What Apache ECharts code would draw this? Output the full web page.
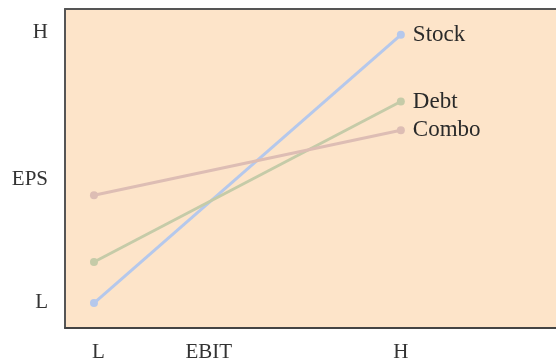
<!DOCTYPE html>
<html>
<head>
<meta charset="utf-8">
<script src="https://cdn.jsdelivr.net/npm/echarts@6/dist/echarts.min.js"></script>
<style>html,body{margin:0;padding:0;background:#fff}#c{width:556px;height:363px}</style>
</head>
<body>
<div id="c"></div>
<script>
// Data (x: EBIT level, y: EPS level, on 0-100 abstract scales)
var xPoints = [5.9, 68.4];           // L, H EBIT positions
var seriesNames = ['Stock', 'Debt', 'Combo'];
var stockEPS = [7.8, 91.9];
var debtEPS = [20.7, 71.0];
var comboEPS = [41.6, 62.0];
var xTickLabels = ['L', 'EBIT', 'H'];
var xTickValues = [6.8, 29.3, 68.4];
var yTickLabels = ['L', 'EPS', 'H'];
var yTickValues = [8.1, 46.6, 92.7];

var colors = ['#b5c8ec', '#c5cba8', '#ddbdb4'];
var font = '"Liberation Serif", "DejaVu Serif", serif';

function pairs(ys) { return ys.map(function (y, i) { return [xPoints[i], y]; }); }
var allData = [stockEPS, debtEPS, comboEPS];

var chart = echarts.init(document.getElementById('c'), null, { renderer: 'canvas' });
chart.setOption({
  animation: false,
  backgroundColor: '#ffffff',
  grid: { left: 65, right: 0, top: 9, bottom: 34, show: true, backgroundColor: '#fde4c9', borderWidth: 0 },
  xAxis: [{
    type: 'value', min: 0, max: 100,
    splitLine: { show: false },
    axisLine: { show: true, onZero: false, lineStyle: { color: '#444', width: 2 } },
    axisTick: { show: false },
    axisLabel: {
      customValues: xTickValues,
      formatter: function (v) { var i = xTickValues.indexOf(v); return i >= 0 ? xTickLabels[i] : ''; },
      color: '#333', fontFamily: font, fontSize: 21, margin: 14
    }
  }, {
    type: 'value', min: 0, max: 100, position: 'top',
    splitLine: { show: false },
    axisLine: { show: true, onZero: false, lineStyle: { color: '#555', width: 2 } },
    axisTick: { show: false },
    axisLabel: { show: false }
  }],
  yAxis: {
    type: 'value', min: 0, max: 100,
    splitLine: { show: false },
    axisLine: { show: true, onZero: false, lineStyle: { color: '#555', width: 2 } },
    axisTick: { show: false },
    axisLabel: {
      customValues: yTickValues,
      formatter: function (v) { var i = yTickValues.indexOf(v); return i >= 0 ? yTickLabels[i] : ''; },
      color: '#333', fontFamily: font, fontSize: 21, margin: 17
    }
  },
  series: seriesNames.map(function (n, k) {
    return {
      name: n, type: 'line', data: pairs(allData[k]),
      symbol: 'circle', symbolSize: 8, showSymbol: true,
      lineStyle: { color: colors[k], width: 3 },
      itemStyle: { color: colors[k] },
      label: {
        show: true, position: 'right', distance: 8,
        formatter: function (p) { return p.dataIndex === 1 ? n : ''; },
        color: '#2a2a2a', fontFamily: font, fontSize: 23
      }
    };
  })
});
</script>
</body>
</html>
